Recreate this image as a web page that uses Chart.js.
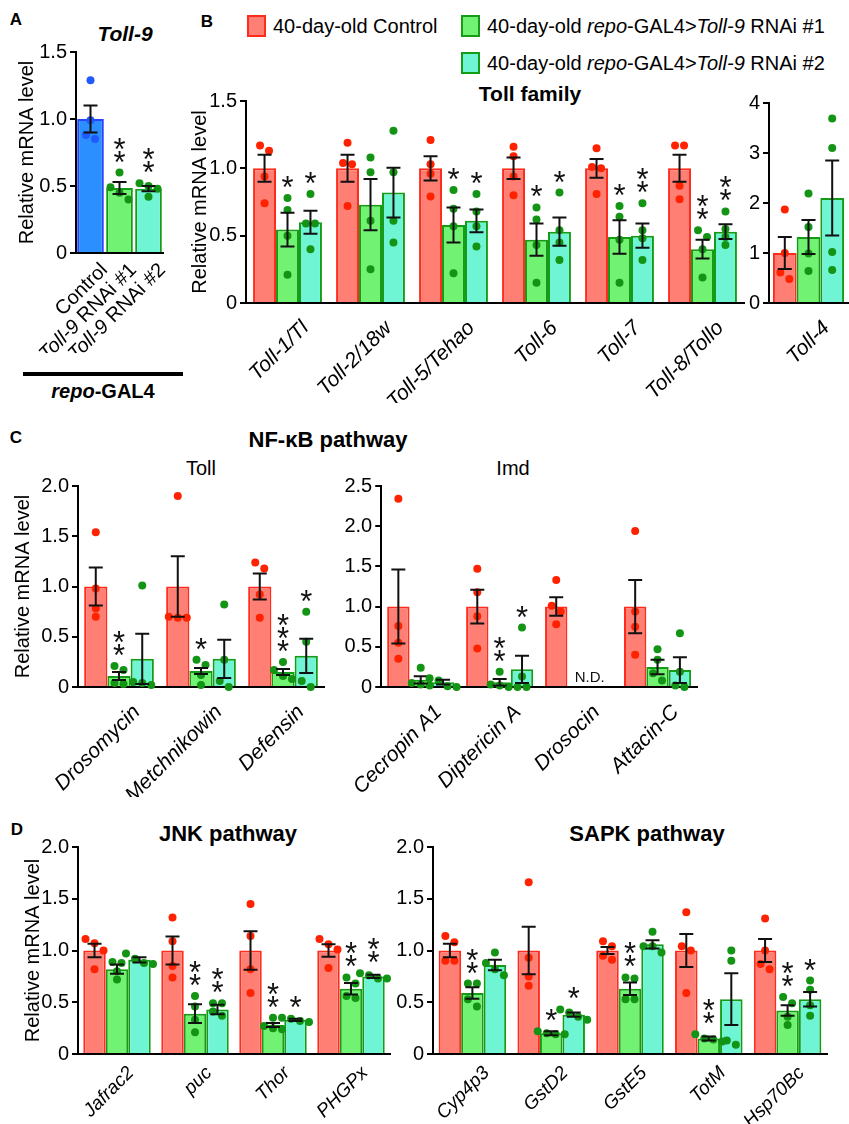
<!DOCTYPE html>
<html lang="en">
<head>
<meta charset="UTF-8">
<title>Toll-9 knockdown qPCR</title>
<script src="https://cdn.jsdelivr.net/npm/chart.js"></script>
<style>
  body { margin: 0; width: 849px; height: 1124px; position: relative; overflow: hidden; background: #fff;
         font-family: 'Liberation Sans', Arial, sans-serif; color: #000; }
  canvas { position: absolute; }
  .t { position: absolute; white-space: nowrap; transform: translate(-50%, -50%); }
  .lt { position: absolute; white-space: nowrap; transform: translateY(-50%); font-size: 20px; }
  .pl { position: absolute; font-weight: bold; font-size: 17px; transform: translate(-50%, -50%); }
  .box { position: absolute; width: 15px; height: 18px; border: 2px solid; }
</style>
</head>
<body>
  <!-- panel letters and titles -->
  <div class="pl" style="left:16px;top:20px">A</div>
  <div class="t" style="left:125px;top:34px;font-weight:bold;font-style:italic;font-size:21px">Toll-9</div>
  <div style="position:absolute;left:23px;top:372px;width:160px;height:4px;background:#000"></div>
  <div class="t" style="left:103px;top:391px;font-weight:bold;font-size:20px"><i>repo</i>-GAL4</div>

  <div class="pl" style="left:207px;top:22px">B</div>
  <div class="box" style="left:247px;top:15px;background:#ff7f75;border-color:#ff2b1c"></div>
  <div class="lt" style="left:273px;top:26px">40-day-old Control</div>
  <div class="box" style="left:461px;top:15px;background:#72f272;border-color:#169b16"></div>
  <div class="lt" style="left:487px;top:26px">40-day-old <i>repo</i>-GAL4&gt;<i>Toll-9</i> RNAi #1</div>
  <div class="box" style="left:461px;top:52px;background:#6ff5d3;border-color:#169b16"></div>
  <div class="lt" style="left:487px;top:63px">40-day-old <i>repo</i>-GAL4&gt;<i>Toll-9</i> RNAi #2</div>
  <div class="t" style="left:530px;top:94px;font-weight:bold;font-size:21px">Toll family</div>

  <div class="pl" style="left:16px;top:438px">C</div>
  <div class="t" style="left:328px;top:440px;font-weight:bold;font-size:22px">NF-κB pathway</div>
  <div class="t" style="left:201px;top:468px;font-size:20px">Toll</div>
  <div class="t" style="left:513px;top:468px;font-size:20px">Imd</div>

  <div class="pl" style="left:17px;top:830px">D</div>
  <div class="t" style="left:228px;top:834px;font-weight:bold;font-size:22px">JNK pathway</div>
  <div class="t" style="left:647px;top:834px;font-weight:bold;font-size:22px">SAPK pathway</div>

  <canvas id="chartA"></canvas>
  <canvas id="chartToll"></canvas>
  <canvas id="chartToll4"></canvas>
  <canvas id="chartNfToll"></canvas>
  <canvas id="chartImd"></canvas>
  <canvas id="chartJnk"></canvas>
  <canvas id="chartSapk"></canvas>

<script>
// ---- data ----
// panel A: Toll-9
const aLabels = [[['Control', false]], [['Toll-9', true], [' RNAi #1', false]], [['Toll-9', true], [' RNAi #2', false]]];
const aMean = [1.0, 0.485, 0.48];
const aSem = [0.10, 0.045, 0.02];
const aPts = [[1.29, 0.99, 0.85, 0.88], [0.60, 0.40, 0.45, 0.49], [0.42, 0.50, 0.48, 0.52]];
const aStars = ['', '**', '**'];

// panel B: Toll family
const tollLabels = ['Toll-1/Tl', 'Toll-2/18w', 'Toll-5/Tehao', 'Toll-6', 'Toll-7', 'Toll-8/Tollo'];
const tollCtrl = [1, 1, 1, 1, 1, 1];
const tollCtrlSem = [0.10, 0.10, 0.09, 0.08, 0.07, 0.10];
const tollCtrlPts = [[1.13, 1.17, 0.94, 0.74], [1.19, 1.04, 1.03, 0.72], [1.21, 1.03, 0.96, 0.79], [1.16, 1.09, 0.94, 0.80], [1.15, 1.01, 1.00, 0.81], [1.17, 1.17, 0.87, 0.77]];
const tollR1 = [0.545, 0.73, 0.58, 0.47, 0.49, 0.40];
const tollR1Sem = [0.125, 0.19, 0.13, 0.12, 0.125, 0.07];
const tollR1Pts = [[0.78, 0.69, 0.50, 0.21], [1.08, 0.97, 0.61, 0.25], [0.84, 0.70, 0.57, 0.22], [0.71, 0.62, 0.43, 0.15], [0.72, 0.64, 0.47, 0.15], [0.49, 0.54, 0.40, 0.19]];
const tollR1Stars = ['*', '', '*', '*', '*', '**'];
const tollR2 = [0.60, 0.82, 0.61, 0.53, 0.50, 0.53];
const tollR2Sem = [0.085, 0.185, 0.085, 0.105, 0.09, 0.055];
const tollR2Pts = [[0.81, 0.59, 0.59, 0.40], [1.28, 0.97, 0.61, 0.45], [0.81, 0.68, 0.57, 0.42], [0.82, 0.54, 0.45, 0.32], [0.74, 0.54, 0.48, 0.32], [0.68, 0.55, 0.49, 0.43]];
const tollR2Stars = ['*', '', '*', '*', '**', '**'];

const toll4Labels = ['Toll-4'];
const toll4Ctrl = [1.0], toll4CtrlSem = [0.32], toll4CtrlPts = [[1.87, 1.0, 0.61, 0.48]];
const toll4R1 = [1.32], toll4R1Sem = [0.34], toll4R1Pts = [[2.19, 1.52, 0.99, 0.64]];
const toll4R2 = [2.1], toll4R2Sem = [0.75], toll4R2Pts = [[3.69, 3.10, 1.02, 0.66]];

// panel C: NF-kB, Toll branch
const nfLabels = ['Drosomycin', 'Metchnikowin', 'Defensin'];
const nfCtrl = [1, 1, 1];
const nfCtrlSem = [0.19, 0.30, 0.13];
const nfCtrlPts = [[1.54, 0.98, 0.78, 0.70], [1.90, 0.69, 0.70, 0.69], [1.18, 1.24, 0.92, 0.69]];
const nfR1 = [0.11, 0.16, 0.15];
const nfR1Sem = [0.04, 0.03, 0.03];
const nfR1Pts = [[0.17, 0.21, 0.04, 0.03], [0.22, 0.27, 0.12, 0.02], [0.17, 0.25, 0.08, 0.11]];
const nfR1Stars = ['**', '*', '***'];
const nfR2 = [0.28, 0.28, 0.31];
const nfR2Sem = [0.25, 0.19, 0.17];
const nfR2Pts = [[1.01, 0.04, 0.05, 0.02], [0.82, 0.27, 0.06, 0.0], [0.75, 0.45, 0.06, 0.0]];
const nfR2Stars = ['', '', '*'];

// panel C: Imd branch (null = not detected)
const imdLabels = ['Cecropin A1', 'Diptericin A', 'Drosocin', 'Attacin-C'];
const imdCtrl = [1, 1, 1, 1];
const imdCtrlSem = [0.46, 0.21, 0.115, 0.33];
const imdCtrlPts = [[2.34, 0.76, 0.55, 0.35], [1.47, 1.18, 0.88, 0.48], [1.33, 1.01, 0.94, 0.78], [1.94, 0.94, 0.75, 0.40]];
const imdR1 = [0.09, 0.06, null, 0.25];
const imdR1Sem = [0.045, 0.04, null, 0.09];
const imdR1Pts = [[0.24, 0.05, 0.02, 0.03], [0.19, 0.03, 0.02, 0.0], null, [0.47, 0.34, 0.08, 0.17]];
const imdR1Stars = ['', '**', '', ''];
const imdR2 = [0.06, 0.22, null, 0.21];
const imdR2Sem = [0.03, 0.17, null, 0.16];
const imdR2Pts = [[0.11, 0.08, 0.01, 0.0], [0.74, 0.13, 0.0, 0.0], null, [0.67, 0.19, 0.0, 0.02]];
const imdR2Stars = ['', '*', '', ''];

// panel D: JNK
const jnkLabels = ['Jafrac2', 'puc', 'Thor', 'PHGPx'];
const jnkCtrl = [1, 1, 1, 1];
const jnkCtrlSem = [0.065, 0.135, 0.185, 0.06];
const jnkCtrlPts = [[1.07, 1.11, 1.00, 0.82], [1.32, 1.09, 0.85, 0.74], [1.45, 1.14, 0.82, 0.59], [1.06, 1.11, 1.01, 0.83]];
const jnkR1 = [0.82, 0.39, 0.28, 0.63];
const jnkR1Sem = [0.045, 0.09, 0.02, 0.055];
const jnkR1Pts = [[0.89, 0.88, 0.72, 0.80], [0.56, 0.46, 0.33, 0.21], [0.35, 0.27, 0.25, 0.24], [0.74, 0.54, 0.56, 0.68]];
const jnkR1Stars = ['', '**', '**', '**'];
const jnkR2 = [0.91, 0.43, 0.33, 0.75];
const jnkR2Sem = [0.025, 0.045, 0.01, 0.015];
const jnkR2Pts = [[0.97, 0.92, 0.88, 0.87], [0.49, 0.49, 0.37, 0.41], [0.35, 0.34, 0.32, 0.31], [0.78, 0.76, 0.73, 0.73]];
const jnkR2Stars = ['', '**', '*', '**'];

// panel D: SAPK
const sapkLabels = ['Cyp4p3', 'GstD2', 'GstE5', 'TotM', 'Hsp70Bc'];
const sapkCtrl = [1, 1, 1, 1, 1];
const sapkCtrlSem = [0.065, 0.23, 0.035, 0.16, 0.11];
const sapkCtrlPts = [[1.08, 1.14, 0.90, 0.90], [1.66, 0.93, 0.75, 0.66], [1.04, 1.09, 0.91, 0.95], [1.37, 1.04, 1.00, 0.59], [1.31, 1.00, 0.82, 0.87]];
const sapkR1 = [0.59, 0.20, 0.63, 0.15, 0.42];
const sapkR1Sem = [0.055, 0.02, 0.06, 0.02, 0.05];
const sapkR1Pts = [[0.68, 0.68, 0.53, 0.46], [0.22, 0.20, 0.19, 0.19], [0.73, 0.74, 0.53, 0.53], [0.19, 0.15, 0.14, 0.12], [0.49, 0.55, 0.36, 0.28]];
const sapkR1Stars = ['**', '*', '**', '**', '**'];
const sapkR2 = [0.86, 0.38, 1.06, 0.53, 0.53];
const sapkR2Sem = [0.05, 0.02, 0.04, 0.25, 0.07];
const sapkR2Pts = [[0.98, 0.88, 0.82, 0.76], [0.43, 0.40, 0.36, 0.33], [1.18, 0.98, 1.04, 1.04], [1.00, 0.90, 0.13, 0.09], [0.71, 0.62, 0.47, 0.37]];
const sapkR2Stars = ['', '*', '', '', '*'];

// ---- styling ----
const FONT = "'Liberation Sans', Arial, sans-serif";
const RED = '#ff7f75', RED_LINE = '#ff2b1c', RED_DOT = '#ff2200';
const GREEN = '#72f272', TEAL = '#6ff5d3', GREEN_LINE = '#169b16', GREEN_DOT = '#149414';
const BLUE = '#2b8fff', BLUE_LINE = '#2a44ff', BLUE_DOT = '#1f5aff';
const R = 4;

// spread dots that overlap vertically
function swarm(ys) {
  const order = ys.map((y, k) => k).sort((a, b) => ys[a] - ys[b]);
  const out = [];
  let group = [];
  const flush = () => {
    group.forEach((k, j) => out.push([(j - (group.length - 1) / 2) * (2 * R + 1), ys[k]]));
    group = [];
  };
  order.forEach(k => {
    if (group.length && ys[k] - ys[group[group.length - 1]] >= 2 * R) flush();
    group.push(k);
  });
  flush();
  return out;
}

// dots, error bars, stars, N.D. and mixed-style labels
const extras = {
  id: 'extras',
  afterDatasetsDraw(chart, args, opts) {
    const ctx = chart.ctx, ys = chart.scales.y, xs = chart.scales.x;
    ctx.save();
    chart.data.datasets.forEach((ds, di) => {
      const meta = chart.getDatasetMeta(di);
      meta.data.forEach((bar, i) => {
        if (ds.data[i] == null) return;
        const x = bar.x;
        const pts = ds.pts[i] || [];
        const pys = pts.map(v => ys.getPixelForValue(v));
        ctx.fillStyle = Array.isArray(ds.dotColor) ? ds.dotColor[i] : ds.dotColor;
        swarm(pys).forEach(([dx, y]) => {
          ctx.beginPath();
          ctx.arc(x + dx, y, R, 0, Math.PI * 2);
          ctx.fill();
        });
        const m = ds.data[i], s = ds.sem[i];
        const yt = ys.getPixelForValue(m + s), yb = ys.getPixelForValue(m - s);
        ctx.strokeStyle = '#111';
        ctx.lineWidth = 2;
        ctx.beginPath();
        ctx.moveTo(x, yt); ctx.lineTo(x, yb);
        ctx.moveTo(x - 7, yt); ctx.lineTo(x + 7, yt);
        ctx.moveTo(x - 7, yb); ctx.lineTo(x + 7, yb);
        ctx.stroke();
        const st = ds.stars ? ds.stars[i] : '';
        if (st) {
          const top = Math.min(yt, ...pys.map(y => y - R));
          ctx.font = '31px ' + FONT;
          ctx.fillStyle = '#111';
          ctx.textAlign = 'center';
          ctx.textBaseline = 'alphabetic';
          const mt = ctx.measureText('*');
          for (let k = 0; k < st.length; k++) {
            const bottom = top - 6 - k * 13;
            ctx.fillText('*', x, bottom - mt.actualBoundingBoxDescent);
          }
        }
      });
    });
    if (opts.nd != null) {
      const pitch = xs.getPixelForValue(1) - xs.getPixelForValue(0);
      const bw = pitch * opts.cat / 3;
      ctx.font = '15px ' + FONT;
      ctx.fillStyle = '#111';
      ctx.textAlign = 'center';
      ctx.textBaseline = 'middle';
      ctx.fillText('N.D.', xs.getPixelForValue(opts.nd) + bw / 2, chart.chartArea.bottom - 9);
    }
    if (opts.parts) {
      const meta = chart.getDatasetMeta(0);
      opts.parts.forEach((parts, i) => {
        const bar = meta.data[i];
        ctx.save();
        ctx.translate(bar.x + 14, chart.chartArea.bottom + 14);
        ctx.rotate(-Math.PI / 4);
        ctx.fillStyle = '#000';
        ctx.textBaseline = 'middle';
        ctx.textAlign = 'left';
        const fonts = parts.map(p => (p[1] ? 'italic ' : '') + '20px ' + FONT);
        const widths = parts.map((p, k) => { ctx.font = fonts[k]; return ctx.measureText(p[0]).width; });
        let px = -widths.reduce((a, b) => a + b, 0);
        parts.forEach((p, k) => { ctx.font = fonts[k]; ctx.fillText(p[0], px, 0); px += widths[k]; });
        ctx.restore();
      });
    }
    ctx.restore();
  }
};

function series(data, sem, pts, stars, fill, line, dot, cat) {
  return { data, sem, pts, stars, dotColor: dot, backgroundColor: fill, borderColor: line,
           borderWidth: 2, barPercentage: 1, categoryPercentage: cat };
}

function barChart(id, box, labels, sets, opt) {
  const cv = document.getElementById(id);
  cv.width = box.w; cv.height = box.h;
  cv.style.left = box.x + 'px'; cv.style.top = box.y + 'px';
  return new Chart(cv, {
    type: 'bar',
    data: { labels, datasets: sets },
    options: {
      responsive: false, animation: false, devicePixelRatio: 1,
      layout: { padding: { top: 16, right: box.pr, left: 0, bottom: 0 } },
      plugins: { legend: { display: false }, tooltip: { enabled: false },
                 extras: { nd: opt.nd, cat: opt.cat, parts: opt.parts } },
      scales: {
        x: {
          grid: { display: false },
          border: { display: true, color: '#000', width: 2 },
          ticks: { display: !opt.parts, color: '#000', font: { family: FONT, size: opt.xf || 20, style: 'italic' },
                   minRotation: 45, maxRotation: 45, labelOffset: opt.lo || 18,
                   padding: opt.xp == null ? 5 : opt.xp, autoSkip: false },
          afterFit: s => { s.height = box.xh; }
        },
        y: {
          min: 0, max: opt.max,
          ticks: { stepSize: opt.step, color: '#000', font: { family: FONT, size: 20 },
                   callback: v => v === 0 ? '0' : (opt.step >= 1 ? String(v) : v.toFixed(1)) },
          grid: { display: true, drawOnChartArea: false, drawTicks: true, tickLength: 6, color: '#000', lineWidth: 2 },
          border: { display: true, color: '#000', width: 2 },
          title: { display: !!opt.title, text: opt.title, color: '#000', font: { family: FONT, size: 20 }, padding: 0 },
          afterFit: s => { s.width = box.yw; }
        }
      }
    },
    plugins: [extras]
  });
}

const YT = 'Relative mRNA level';

// A
barChart('chartA', { x: 15, y: 36, w: 152, h: 317, yw: 61, xh: 100, pr: 4 }, ['Control', 'Toll-9 RNAi #1', 'Toll-9 RNAi #2'],
  [series(aMean, aSem, aPts, aStars, [BLUE, GREEN, TEAL], [BLUE_LINE, GREEN_LINE, GREEN_LINE], [BLUE_DOT, GREEN_DOT, GREEN_DOT], 1)],
  { max: 1.5, step: 0.5, title: YT, cat: 1, parts: aLabels });
Chart.getChart('chartA').data.datasets[0].barPercentage = 0.92;
Chart.getChart('chartA').update();

// B
const cB = 0.83;
barChart('chartToll', { x: 188, y: 85, w: 560, h: 318, yw: 58, xh: 100, pr: 4 }, tollLabels, [
  series(tollCtrl, tollCtrlSem, tollCtrlPts, null, RED, RED_LINE, RED_DOT, cB),
  series(tollR1, tollR1Sem, tollR1Pts, tollR1Stars, GREEN, GREEN_LINE, GREEN_DOT, cB),
  series(tollR2, tollR2Sem, tollR2Pts, tollR2Stars, TEAL, GREEN_LINE, GREEN_DOT, cB)
], { max: 1.5, step: 0.5, title: YT, cat: cB, xf: 21 });

const c4 = 0.9;
barChart('chartToll4', { x: 747, y: 87, w: 102, h: 316, yw: 22, xh: 100, pr: 1 }, toll4Labels, [
  series(toll4Ctrl, toll4CtrlSem, toll4CtrlPts, null, RED, RED_LINE, RED_DOT, c4),
  series(toll4R1, toll4R1Sem, toll4R1Pts, null, GREEN, GREEN_LINE, GREEN_DOT, c4),
  series(toll4R2, toll4R2Sem, toll4R2Pts, null, TEAL, GREEN_LINE, GREEN_DOT, c4)
], { max: 4, step: 1, cat: c4, xf: 21 });

// C
const cC = 0.85;
barChart('chartNfToll', { x: 11, y: 470, w: 317, h: 327, yw: 67, xh: 110, pr: 4 }, nfLabels, [
  series(nfCtrl, nfCtrlSem, nfCtrlPts, null, RED, RED_LINE, RED_DOT, cC),
  series(nfR1, nfR1Sem, nfR1Pts, nfR1Stars, GREEN, GREEN_LINE, GREEN_DOT, cC),
  series(nfR2, nfR2Sem, nfR2Pts, nfR2Stars, TEAL, GREEN_LINE, GREEN_DOT, cC)
], { max: 2, step: 0.5, title: YT, cat: cC, xf: 21 });

barChart('chartImd', { x: 329, y: 470, w: 372, h: 327, yw: 40, xh: 110, pr: 4 }, imdLabels, [
  series(imdCtrl, imdCtrlSem, imdCtrlPts, null, RED, RED_LINE, RED_DOT, cC),
  series(imdR1, imdR1Sem, imdR1Pts, imdR1Stars, GREEN, GREEN_LINE, GREEN_DOT, cC),
  series(imdR2, imdR2Sem, imdR2Pts, imdR2Stars, TEAL, GREEN_LINE, GREEN_DOT, cC)
], { max: 2.5, step: 0.5, cat: cC, nd: 2, xf: 21 });

// D
const cJ = 0.865;
barChart('chartJnk', { x: 21, y: 831, w: 373, h: 293, yw: 57, xh: 70, pr: 4 }, jnkLabels, [
  series(jnkCtrl, jnkCtrlSem, jnkCtrlPts, null, RED, RED_LINE, RED_DOT, cJ),
  series(jnkR1, jnkR1Sem, jnkR1Pts, jnkR1Stars, GREEN, GREEN_LINE, GREEN_DOT, cJ),
  series(jnkR2, jnkR2Sem, jnkR2Pts, jnkR2Stars, TEAL, GREEN_LINE, GREEN_DOT, cJ)
], { max: 2, step: 0.5, title: YT, cat: cJ, xf: 19, lo: 14, xp: 0 });

const cS = 0.857;
barChart('chartSapk', { x: 393, y: 831, w: 438, h: 293, yw: 40, xh: 70, pr: 4 }, sapkLabels, [
  series(sapkCtrl, sapkCtrlSem, sapkCtrlPts, null, RED, RED_LINE, RED_DOT, cS),
  series(sapkR1, sapkR1Sem, sapkR1Pts, sapkR1Stars, GREEN, GREEN_LINE, GREEN_DOT, cS),
  series(sapkR2, sapkR2Sem, sapkR2Pts, sapkR2Stars, TEAL, GREEN_LINE, GREEN_DOT, cS)
], { max: 2, step: 0.5, cat: cS, xf: 19, lo: 14, xp: 0 });
</script>
</body>
</html>
